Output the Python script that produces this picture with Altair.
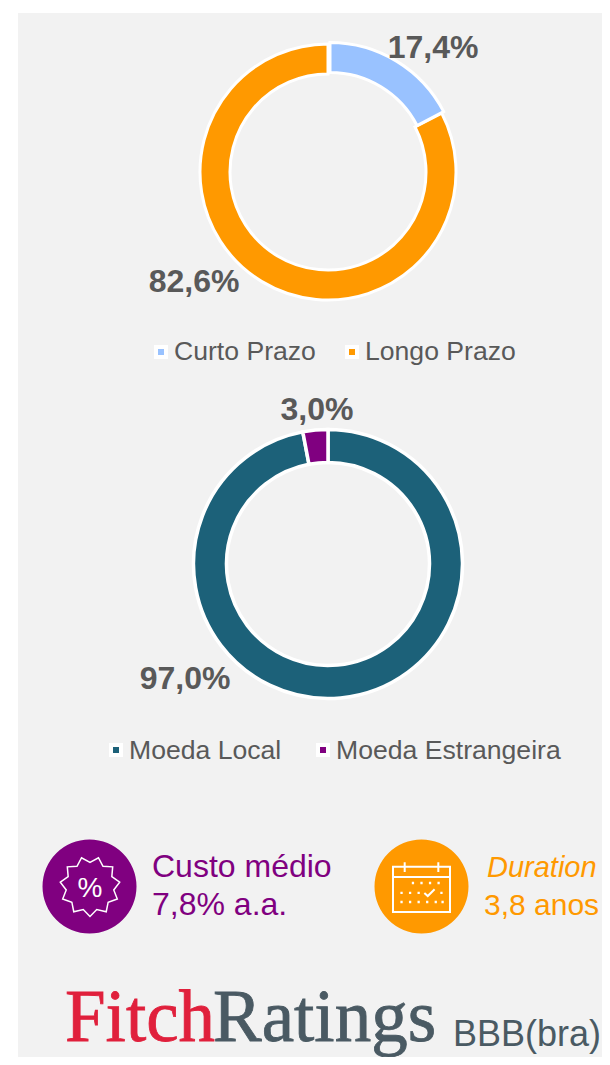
import math
import altair as alt
import pandas as pd

term_labels = ["Curto Prazo", "Longo Prazo"]
term_values = [17.4, 82.6]
currency_labels = ["Moeda Local", "Moeda Estrangeira"]
currency_values = [97.0, 3.0]
all_labels = ["Curto Prazo", "Longo Prazo", "Moeda Local", "Moeda Estrangeira"]
all_colors = ["#99c2ff", "#ff9900", "#1c6179", "#800080"]

GREY = "#595959"
PURPLE = "#800080"
ORANGE = "#ff9900"
SLATE = "#4a5a63"
RED = "#e0203c"
FONT = "Liberation Sans"
SERIF = "Liberation Serif"


def X(v):
    return alt.value(v - 8)


def Y(v):
    return alt.value(v - 8)


color = alt.Color("label:N", legend=None,
                  scale=alt.Scale(domain=all_labels, range=all_colors))


def slices(labels, values):
    start, rows = 0, []
    for l, v in zip(labels, values):
        rows.append({"label": l, "start": start, "end": start + v})
        start += v
    return rows


def arc(row, cx, cy, inner, outer, sw=3):
    return alt.Chart(pd.DataFrame([row])).mark_arc(
        innerRadius=inner, outerRadius=outer, stroke="white", strokeWidth=sw
    ).encode(
        theta=alt.Theta("start:Q", scale=alt.Scale(domain=[0, 100]), title=None),
        theta2="end:Q", color=color, x=X(cx), y=Y(cy))


def text(t, x, y, size, col=GREY, bold=False, align="left", italic=False, font=FONT, thick=0):
    kw = dict(stroke=col, strokeWidth=thick) if thick else {}
    return alt.Chart(pd.DataFrame({"t": [t]})).mark_text(
        fontSize=size, color=col, font=font, align=align, baseline="alphabetic",
        fontWeight="bold" if bold else "normal",
        fontStyle="italic" if italic else "normal", **kw
    ).encode(text="t:N", x=X(x), y=Y(y))


def swatch(label, x, y):
    return alt.Chart(pd.DataFrame({"label": [label]})).mark_point(
        shape="square", filled=True, size=100, stroke="white", strokeWidth=4, opacity=1
    ).encode(color=color, x=X(x), y=Y(y))


def disc(col, x, y, r):
    return alt.Chart(pd.DataFrame({"a": [1]})).mark_point(
        shape="circle", filled=True, size=4 * r * r, color=col, opacity=1, strokeWidth=0
    ).encode(x=X(x), y=Y(y))


def glyph(path, x, y, box, width=1.6):
    return alt.Chart(pd.DataFrame({"a": [1]})).mark_point(
        shape=path, filled=False, size=box * box, color="white", opacity=1, strokeWidth=width
    ).encode(x=X(x), y=Y(y))


def burst_path(n=11, ro=1.0, ri=0.8):
    pts = []
    for i in range(2 * n):
        r = ro if i % 2 == 0 else ri
        a = math.pi + math.pi * i / n
        pts.append(f"{r * math.sin(a):.3f},{-r * math.cos(a):.3f}")
    return "M" + "L".join(pts) + "Z"


calendar = (
    "M-0.59,-0.73H-1V0.86H1V-0.73H0.59"
    "M-0.59,-0.89V-0.54M0.59,-0.89V-0.54M-0.59,-0.73H0.59"
    "M-1,-0.37H1"
)
dots = "".join(
    f"M{x:.2f},{y:.2f}h0.08"
    for y, xs in [(-0.16, (-0.34, -0.04, 0.26, 0.56)),
                  (0.19, (-0.74, -0.44, -0.14, 0.66)),
                  (0.51, (-0.74, -0.44, -0.14, 0.16, 0.46, 0.7))]
    for x in xs
)
tick = "M0.1,0.19L0.22,0.3L0.46,0.06"

panel = alt.Chart(pd.DataFrame({"a": [1]})).mark_rect(color="#f2f2f2").encode(
    x=X(18), x2=X(602), y=Y(13), y2=Y(1057))

t_rows = slices(term_labels, term_values)
c_rows = slices(currency_labels, currency_values)

layers = [
    panel,
    arc(t_rows[1], 328, 172, 98, 128),
    arc(t_rows[0], 330, 170.5, 98, 128),
    arc(c_rows[0], 328, 564, 101.5, 134.5, 3.5),
    arc(c_rows[1], 328, 564, 101.5, 134.5, 3.5),
    text("17,4%", 433, 58, 32, bold=True, align="center"),
    text("82,6%", 194, 292, 32, bold=True, align="center"),
    text("3,0%", 317, 420, 32, bold=True, align="center"),
    text("97,0%", 185, 689, 32, bold=True, align="center"),
    swatch("Curto Prazo", 161, 352), text("Curto Prazo", 174, 360, 26.6),
    swatch("Longo Prazo", 352, 352), text("Longo Prazo", 365, 360, 26.6),
    swatch("Moeda Local", 116, 750), text("Moeda Local", 129, 759, 26.6),
    swatch("Moeda Estrangeira", 323, 750), text("Moeda Estrangeira", 336, 759, 26.6),
    disc(PURPLE, 89.5, 886.5, 47),
    glyph(burst_path(), 90, 886.5, 60, width=1.5),
    text("%", 90, 896.5, 28, col="white", align="center"),
    text("Custo médio", 152, 877, 32, col=PURPLE),
    text("7,8% a.a.", 152, 915, 32, col=PURPLE),
    disc(ORANGE, 421.5, 886.5, 47),
    glyph(calendar, 421.5, 887.5, 57, width=2),
    glyph(dots, 421.5, 887.5, 57, width=2.4),
    glyph(tick, 421.5, 887.5, 57, width=2),
    text("Duration", 487, 877, 29, col=ORANGE, italic=True),
    text("3,8 anos", 484, 915, 30, col=ORANGE),
    text("Fitch", 65, 1041, 73, col=RED, font=SERIF, thick=0.8),
    text("Ratings", 213, 1041, 73, col=SLATE, font=SERIF, thick=0.8),
    text("BBB(bra)", 453, 1046, 36, col=SLATE),
]

chart = alt.layer(*layers).properties(
    width=594, height=1049, padding=0, background="white",
    autosize=alt.AutoSizeParams(type="none"),
).configure_view(strokeWidth=0)

chart.save("out.html", embed_options={"renderer": "svg", "actions": False})
